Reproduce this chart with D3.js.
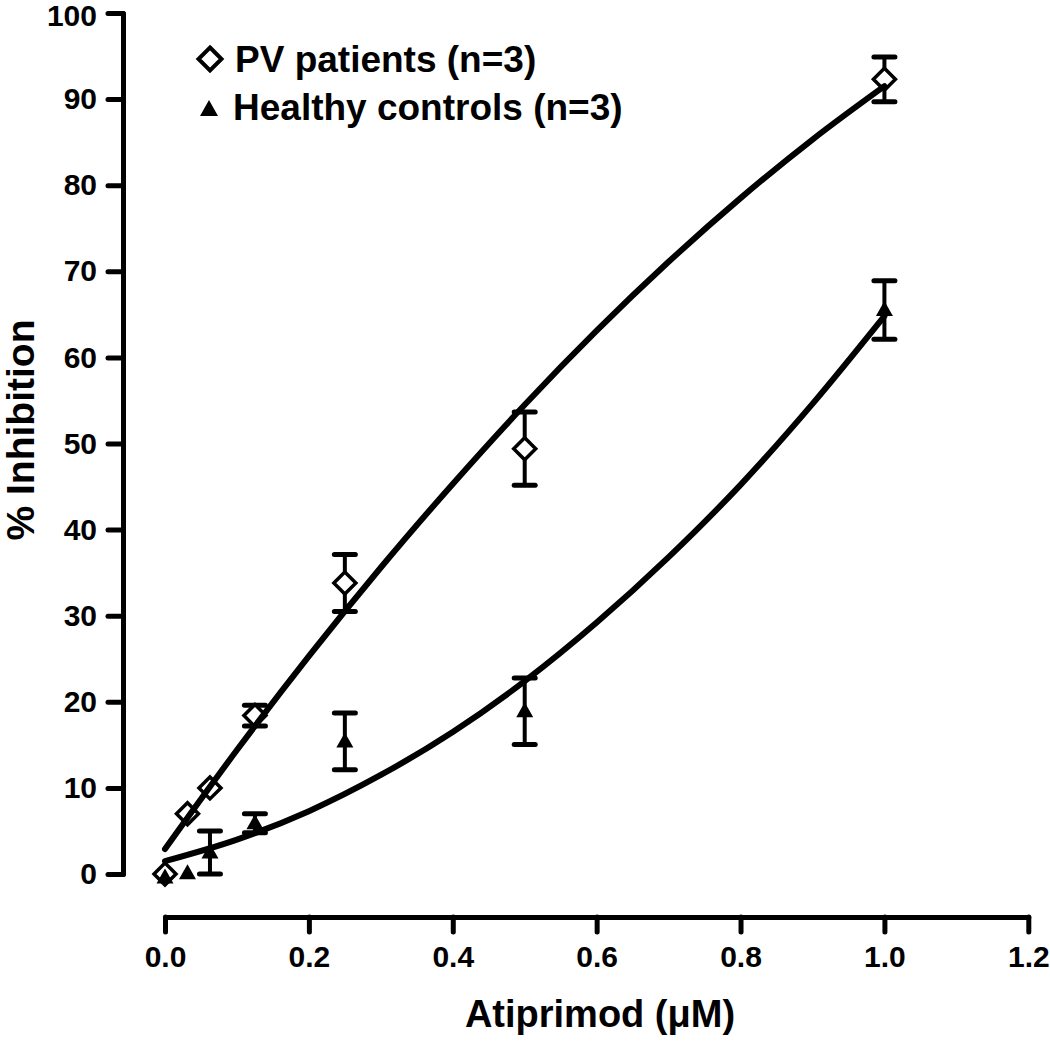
<!DOCTYPE html>
<html>
<head>
<meta charset="utf-8">
<script src="https://cdn.jsdelivr.net/npm/d3@7"></script>
<style>
  html, body { margin: 0; padding: 0; background: #fff; }
  svg { display: block; }
  text { font-family: "Liberation Sans", Arial, Helvetica, sans-serif; font-weight: bold; fill: #000; }
</style>
</head>
<body>
<svg id="chart" width="1050" height="1042"></svg>
<script>
// ---- Data ----
const concentrations = [0, 0.03125, 0.0625, 0.125, 0.25, 0.5, 1.0];
const pvMean  = [0, 7.0, 10.0, 18.4, 33.8, 49.4, 92.3];
const pvErr   = [0, 0, 0, 1.2, 3.3, 4.25, 2.6];
const hcMean  = [-0.4, 0.1, 2.5, 5.9, 15.4, 18.9, 65.5];
const hcErr   = [0, 0, 2.5, 1.1, 3.3, 3.85, 3.4];

// fitted curves
const curveX  = [0, 0.1, 0.2, 0.3, 0.4, 0.5, 0.6, 0.7, 0.8, 0.9, 1.0];
const pvCurve = [2.9, 14.4, 25.3, 35.6, 45.3, 54.5, 63.1, 71.1, 78.5, 85.3, 91.5];
const hcCurve = [1.5, 4.0, 7.3, 11.5, 16.5, 22.4, 29.2, 36.8, 45.2, 54.6, 64.8];

const xTicks = [0, 0.2, 0.4, 0.6, 0.8, 1.0, 1.2];
const yTicks = [0, 10, 20, 30, 40, 50, 60, 70, 80, 90, 100];
const legendLabels = ["PV patients (n=3)", "Healthy controls (n=3)"];
const xTitle = "Atiprimod (\u03BCM)";
const yTitle = "% Inhibition";

// ---- Layout ----
const svg = d3.select("#chart");
const x = d3.scaleLinear().domain([0, 1.2]).range([165, 1028.3]);
const y = d3.scaleLinear().domain([0, 100]).range([874, 13]);
const yAxisX = 123, xAxisY = 917;

// Y axis
const gy = svg.append("g").attr("transform", `translate(${yAxisX},0)`)
  .call(d3.axisLeft(y).tickValues(yTicks).tickFormat(d3.format("d")).tickSize(15).tickSizeOuter(0).tickPadding(11));
// X axis
const gx = svg.append("g").attr("transform", `translate(0,${xAxisY})`)
  .call(d3.axisBottom(x).tickValues(xTicks).tickFormat(d3.format(".1f")).tickSize(15).tickSizeOuter(0).tickPadding(14));

[gx, gy].forEach(g => {
  g.select(".domain").attr("stroke", "#000").attr("stroke-width", 5).attr("stroke-linecap", "round");
  g.selectAll(".tick line").attr("stroke", "#000").attr("stroke-width", 5).attr("stroke-linecap", "round");
  g.selectAll(".tick text").attr("font-size", 30).attr("font-weight", "bold")
    .attr("font-family", "'Liberation Sans', Arial, sans-serif").attr("fill", "#000");
});
// keep the top label just inside the page
gy.selectAll(".tick text").filter(d => d === 100).attr("dy", "0.42em");

// Axis titles
svg.append("text").attr("x", 600).attr("y", 1027).attr("text-anchor", "middle")
  .attr("font-size", 38).text(xTitle);
svg.append("text").attr("transform", "translate(34,430) rotate(-90)").attr("text-anchor", "middle")
  .attr("font-size", 39).text(yTitle);

// Error bars
function errorBars(means, errs) {
  const g = svg.append("g").attr("stroke", "#000").attr("stroke-width", 4);
  concentrations.forEach((c, i) => {
    if (!errs[i]) return;
    const cx = x(c), top = y(means[i] + errs[i]), bot = y(means[i] - errs[i]);
    g.append("line").attr("x1", cx).attr("x2", cx).attr("y1", top).attr("y2", bot);
    g.append("line").attr("x1", cx - 10.5).attr("x2", cx + 10.5).attr("y1", top).attr("y2", top).attr("stroke-width", 5).attr("stroke-linecap", "round");
    g.append("line").attr("x1", cx - 10.5).attr("x2", cx + 10.5).attr("y1", bot).attr("y2", bot).attr("stroke-width", 5).attr("stroke-linecap", "round");
  });
}
errorBars(pvMean, pvErr);
errorBars(hcMean, hcErr);

// Markers
const diamondPath = "M0,-11 L11,0 L0,11 L-11,0 Z";
const trianglePath = "M0,-9 L8.5,6 L-8.5,6 Z";
svg.append("g").selectAll("path").data(concentrations).join("path")
  .attr("d", diamondPath).attr("transform", (d, i) => `translate(${x(d)},${y(pvMean[i])})`)
  .attr("fill", "#fff").attr("stroke", "#000").attr("stroke-width", 3.5);
svg.append("g").selectAll("path").data(concentrations).join("path")
  .attr("d", trianglePath).attr("transform", (d, i) => `translate(${x(d)},${y(hcMean[i])})`)
  .attr("fill", "#000");

// Fitted curves
const line = d3.line().x(d => x(d[0])).y(d => y(d[1])).curve(d3.curveMonotoneX);
[pvCurve, hcCurve].forEach(vals => {
  svg.append("path").datum(curveX.map((c, i) => [c, vals[i]]))
    .attr("d", line).attr("fill", "none").attr("stroke", "#000")
    .attr("stroke-width", 6).attr("stroke-linecap", "round");
});

// Legend
const legend = svg.append("g");
legend.append("path").attr("d", "M0,-11.5 L11.5,0 L0,11.5 L-11.5,0 Z").attr("transform", "translate(210,59)")
  .attr("fill", "#fff").attr("stroke", "#000").attr("stroke-width", 4);
legend.append("path").attr("d", "M0,-9 L9,7 L-9,7 Z").attr("transform", "translate(209,109)").attr("fill", "#000");
legend.append("text").attr("x", 235).attr("y", 72).attr("font-size", 37).text(legendLabels[0]);
legend.append("text").attr("x", 233).attr("y", 120).attr("font-size", 37).text(legendLabels[1]);
</script>
</body>
</html>
